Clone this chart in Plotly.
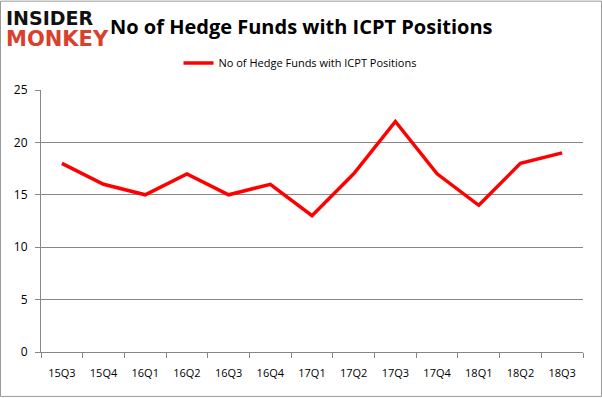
import plotly.graph_objects as go

quarters = ["15Q3", "15Q4", "16Q1", "16Q2", "16Q3", "16Q4", "17Q1",
            "17Q2", "17Q3", "17Q4", "18Q1", "18Q2", "18Q3"]
hedge_funds = [18, 16, 15, 17, 15, 16, 13, 17, 22, 17, 14, 18, 19]
series_name = "No of Hedge Funds with ICPT Positions"
y_ticks = [0, 5, 10, 15, 20, 25]

W, H = 602, 398
L, R, T, B = 41, 19, 89.5, 46
pw, ph = W - L - R, H - T - B

fig = go.Figure()
fig.add_trace(go.Scatter(
    x=quarters, y=hedge_funds, mode="lines", name=series_name,
    line=dict(color="#ff0000", width=3.5),
))

fig.update_layout(
    width=W, height=H,
    margin=dict(l=L, r=R, t=T, b=B, autoexpand=False),
    paper_bgcolor="white", plot_bgcolor="white",
    font=dict(family="Open Sans, DejaVu Sans, sans-serif", size=11, color="#000000"),
    showlegend=True,
    legend=dict(orientation="h", x=(300 - L) / pw, xanchor="center", y=1 + 27/ph, yanchor="middle",
                font=dict(size=11, color="#000"), itemwidth=30,
                bgcolor="rgba(0,0,0,0)"),
    xaxis=dict(
        type="category", showgrid=False, showline=True, linecolor="#878787", linewidth=1,
        ticks="outside", tickson="boundaries", ticklen=5, tickcolor="#878787",
        tickfont=dict(size=11), range=[-0.5, len(quarters) - 0.5],
        ticklabelstandoff=11,
    ),
    yaxis=dict(
        range=[0, 25], tickvals=y_ticks, showgrid=True, gridcolor="#878787", gridwidth=1,
        showline=True, linecolor="#878787", linewidth=1,
        ticks="outside", ticklen=5, tickcolor="#878787", zeroline=False,
        tickfont=dict(size=12), ticklabelstandoff=5,
    ),
    shapes=[dict(type="rect", xref="paper", yref="paper",
                 x0=(0.5 - L) / pw, x1=(W - 0.5 - L) / pw,
                 y0=-(B - 1.5) / ph, y1=1 + (T - 0.5) / ph,
                 line=dict(color="#9a9a9a", width=1), fillcolor="rgba(0,0,0,0)")],
    annotations=[
        dict(text="<b>No of Hedge Funds with ICPT Positions</b>", xref="paper", yref="paper",
             x=(301 - L) / pw, y=1 + (T - 26) / ph, xanchor="center", yanchor="middle",
             showarrow=False, font=dict(family="Open Sans, DejaVu Sans, sans-serif", size=20, color="#000")),
        dict(text="<b>INSIDER</b>", xref="paper", yref="paper",
             x=(4 - L) / pw, y=1 + (T - 17) / ph, xanchor="left", yanchor="middle",
             showarrow=False, font=dict(family="DejaVu Sans, sans-serif", size=19, color="#111111")),
        dict(text="<b>MONKEY</b>", xref="paper", yref="paper",
             x=(4 - L) / pw, y=1 + (T - 38) / ph, xanchor="left", yanchor="middle",
             showarrow=False, font=dict(family="DejaVu Sans, sans-serif", size=21, color="#d8412c")),
    ],
)

fig.write_html("out.html", config={"displayModeBar": False},
               post_script="document.body.style.margin='0';")
